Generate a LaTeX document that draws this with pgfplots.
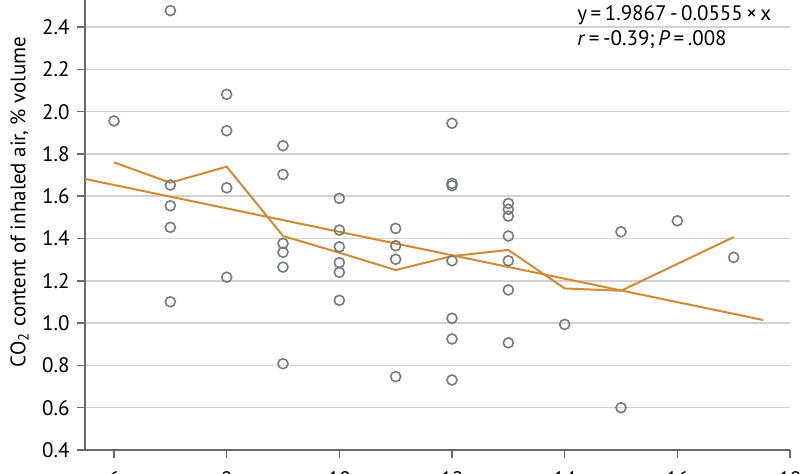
\documentclass[border=0pt]{standalone}
\usepackage{fontspec}
\setmainfont{PT Sans}
\usepackage{pgfplots}
\pgfplotsset{compat=1.18}
\definecolor{orng}{RGB}{214,138,48}
\definecolor{axgray}{RGB}{105,105,105}
\definecolor{gridgray}{RGB}{210,210,210}
\definecolor{markgray}{RGB}{118,124,124}
\begin{document}
\fontsize{10.5}{12.6}\selectfont
\begin{tikzpicture}
\begin{axis}[
  scale only axis, width=352.5pt, height=225pt,
  xmin=5.485, xmax=18, ymin=0.4, ymax=2.528,
  axis x line*=bottom, axis y line*=left,
  axis line style={axgray, line width=0.75pt},
  xtick={6,8,10,12,14,16,18},
  ytick={0.4,0.6,0.8,1.0,1.2,1.4,1.6,1.8,2.0,2.2,2.4},
  yticklabel style={/pgf/number format/.cd, fixed, fixed zerofill, precision=1},
  xticklabel style={yshift=-3pt},
  /pgf/number format/assume math mode=true,
  tick align=outside, major tick length=4pt,
  tick style={axgray, line width=0.75pt},
  ymajorgrids, grid style={gridgray, line width=0.75pt},
  tick label style={font=\fontsize{10.5}{12.6}\selectfont},
  label style={font=\fontsize{10.5}{12.6}\selectfont},
  ylabel={CO\textsubscript{2} content of inhaled air, \% volume},
  ylabel style={at={(axis description cs:-0.093,0.551)}, anchor=center},
  clip=false,
]
\addplot[only marks, mark=o, mark size=2.5pt, markgray, mark options={line width=0.8pt}] coordinates {
(6,1.956)
(7,2.478) (7,1.653) (7,1.555) (7,1.453) (7,1.101)
(8,2.082) (8,1.910) (8,1.640) (8,1.217)
(9,1.839) (9,1.703) (9,1.377) (9,1.335) (9,1.265) (9,0.808)
(10,1.590) (10,1.440) (10,1.361) (10,1.286) (10,1.240) (10,1.108)
(11,1.448) (11,1.366) (11,1.302) (11,0.747)
(12,1.945) (12,1.661) (12,1.650) (12,1.295) (12,1.023) (12,0.925) (12,0.731)
(13,1.566) (13,1.538) (13,1.506) (13,1.412) (13,1.295) (13,1.157) (13,0.907)
(14,0.994)
(15,1.432) (15,0.600)
(16,1.484)
(17,1.311)
};
\addplot[orng, line width=1pt] coordinates {
(6,1.760) (7,1.664) (8,1.740) (9,1.412) (10,1.333) (11,1.251) (12,1.317) (13,1.346) (14,1.164) (15,1.153) (17,1.407)
};
\addplot[orng, line width=1pt] coordinates {(5.485,1.682) (17.52,1.015)};
\node[anchor=west, inner sep=0pt, font=\fontsize{10.5}{12.6}\selectfont] at (axis cs:14.22,2.457) {y\,=\,1.9867\,-\,0.0555\,×\,x};
\node[anchor=west, inner sep=0pt, font=\fontsize{10.5}{12.6}\selectfont] at (axis cs:14.22,2.343) {\textit{r}\,=\,-0.39;\,\textit{P}\,=\,.008};
\end{axis}
\pgfresetboundingbox
\path[use as bounding box] (-42.5pt,-11.5pt) rectangle (357.5pt,225pt);
\end{tikzpicture}
\end{document}
